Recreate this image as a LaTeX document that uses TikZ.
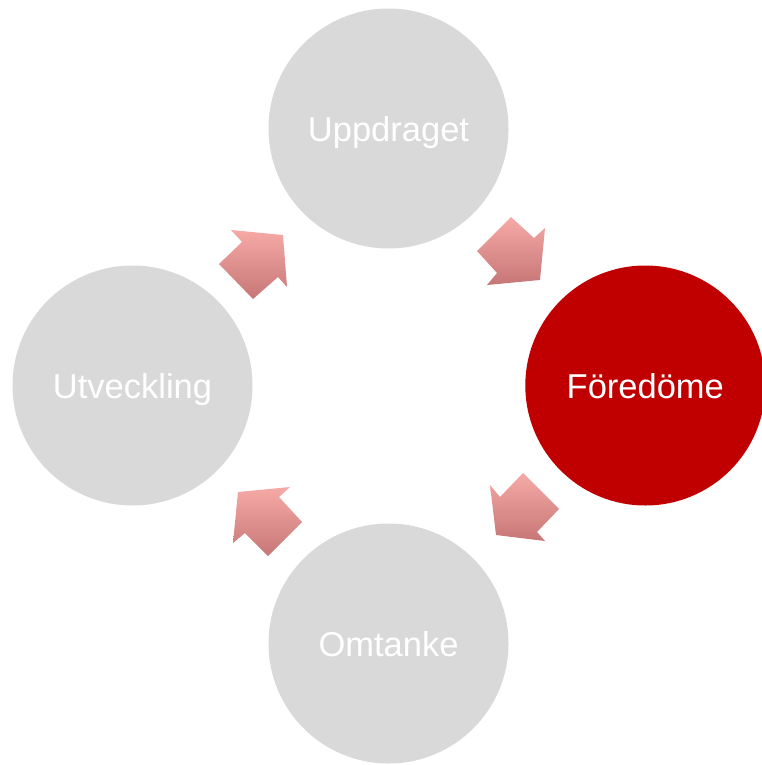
\documentclass[tikz,border=0pt]{standalone}
\usepackage{fontspec}
\setmainfont{Liberation Sans}
\definecolor{circgray}{HTML}{D9D9D9}
\definecolor{circred}{HTML}{C00000}
\definecolor{arrtop}{RGB}{246,170,166}
\definecolor{arrbot}{RGB}{198,118,118}
\begin{document}
\begin{tikzpicture}[x=1pt,y=-1pt,
  stepcircle/.style={circle,minimum size=240pt,inner sep=0pt,fill=circgray,text=white,
     text height=25pt,text depth=0pt,
     font=\fontsize{34.5}{40}\selectfont},
  blockarrow/.style={top color=arrtop,bottom color=arrbot,draw=none}]
\useasboundingbox (0,0) rectangle (762,765);
\node[stepcircle] (top) at (388.5,128.5) {Uppdraget};
\node[stepcircle,fill=circred] (right) at (645.3,385.5) {Föredöme};
\node[stepcircle] (bottom) at (388.5,643.5) {Omtanke};
\node[stepcircle] (left) at (132.5,385.5) {Utveckling};
% arrows
\shade[blockarrow] (231,230) -- (283,235) -- (287,287) -- (278,277) -- (253,299) -- (219,264) -- (242,242) -- cycle;
\shade[blockarrow] (511,217) -- (534,238) -- (545,228) -- (540,280) -- (487,285) -- (497,273) -- (477,251) -- cycle;
\shade[blockarrow] (490,485) -- (500,497) -- (523,473) -- (559,509) -- (537,532) -- (545,541) -- (496,535) -- cycle;
\shade[blockarrow] (238,492) -- (290,487) -- (279,497) -- (302,522) -- (268,556) -- (245,533) -- (233,543) -- cycle;
\end{tikzpicture}
\end{document}
